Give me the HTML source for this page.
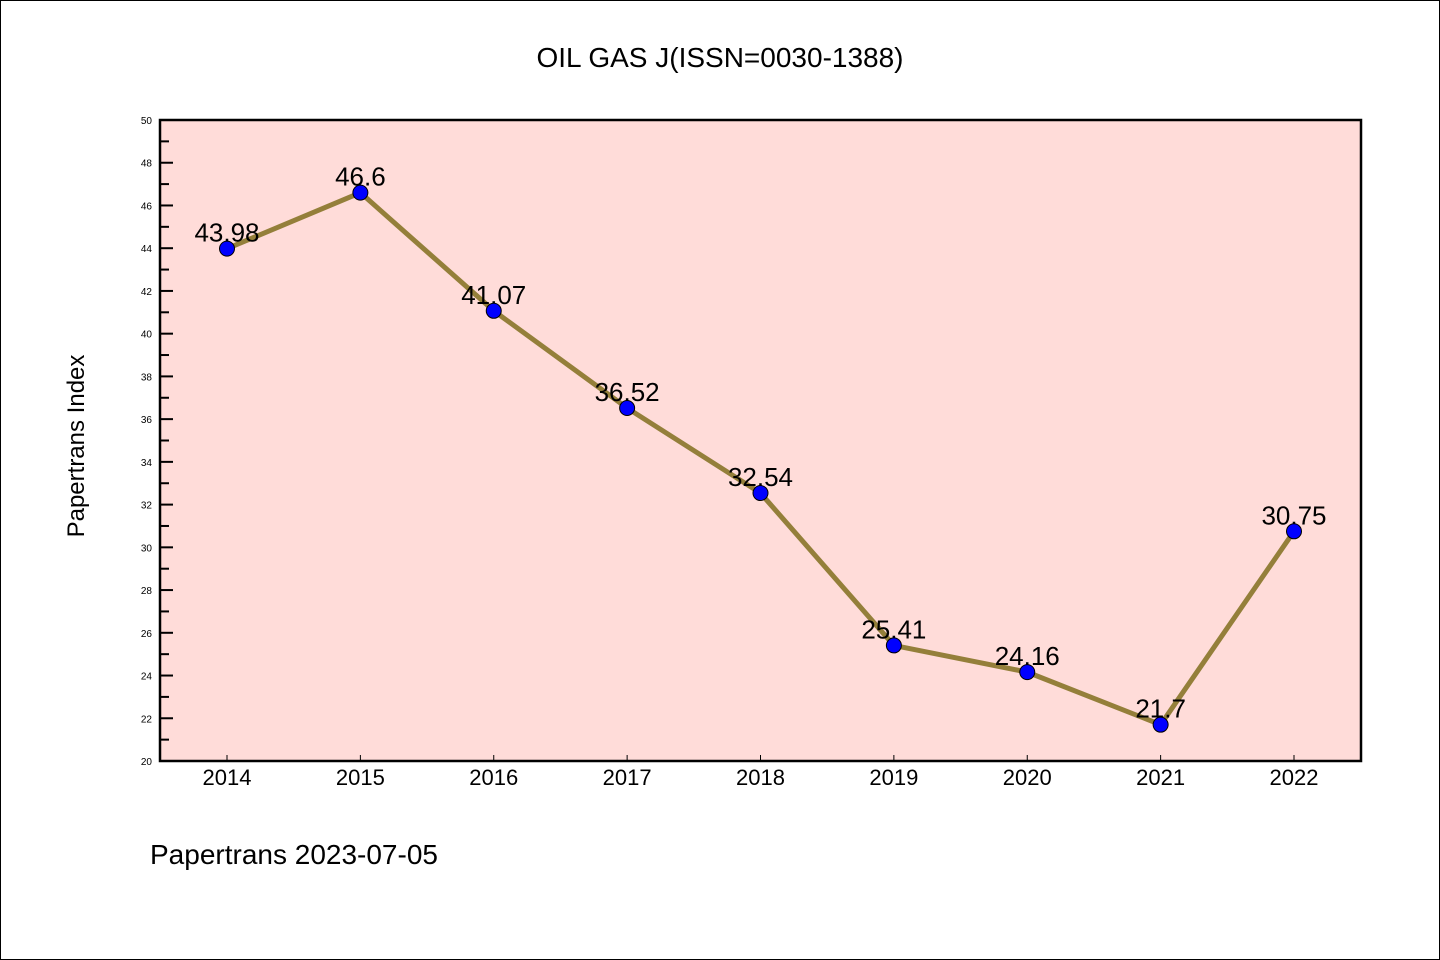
<!DOCTYPE html>
<html><head><meta charset="utf-8"><style>
html,body{margin:0;padding:0;background:#fff}
svg{display:block}
text{font-family:"Liberation Sans","DejaVu Sans",sans-serif}
</style></head><body>
<svg id="chart" width="1440" height="960" xmlns="http://www.w3.org/2000/svg">
<rect x="0.5" y="0.5" width="1439" height="959" fill="#fff" stroke="#000" stroke-width="1"/>
<text x="720" y="67" text-anchor="middle" font-size="28" font-family="DejaVu Sans Mono, monospace" fill="#000">OIL GAS J(ISSN=0030-1388)</text>
<rect x="160" y="120" width="1201" height="641" fill="#ffdcd9"/>
<g id="axes"></g>
<g id="series"></g>
<rect x="160" y="120" width="1201" height="641" fill="none" stroke="#000" stroke-width="2.5"/>
<text transform="translate(84,446) rotate(-90)" text-anchor="middle" font-size="24" font-family="DejaVu Sans Mono, monospace">Papertrans Index</text>
<text x="150" y="864" font-size="28" font-family="DejaVu Sans Mono, monospace">Papertrans 2023-07-05</text>
</svg>
<script>
const categories = ["2014","2015","2016","2017","2018","2019","2020","2021","2022"];
const values = [43.98,46.6,41.07,36.52,32.54,25.41,24.16,21.7,30.75];
const labels = ["43.98","46.6","41.07","36.52","32.54","25.41","24.16","21.7","30.75"];
const yTicks = [20,22,24,26,28,30,32,34,36,38,40,42,44,46,48,50];
const yMin = 20, yMax = 50;
const NS = "http://www.w3.org/2000/svg";
const L = 160, R = 1361, T = 120, B = 761;
function xPos(i){ return 227 + i * (1294 - 227) / (categories.length - 1); }
function yPos(v){ return B - (v - yMin) / (yMax - yMin) * (B - T); }
function mk(tag, attrs, parent){ const e = document.createElementNS(NS, tag); for (const k in attrs) e.setAttribute(k, attrs[k]); parent.appendChild(e); return e; }
const axes = document.getElementById('axes');
const series = document.getElementById('series');
yTicks.forEach(v => {
  const y = yPos(v);
  const t = mk('line', {x1:L, x2:L+13, y1:y, y2:y, stroke:'#000', 'stroke-width':2}, axes);
  
  
  const lb = mk('text', {x:152, y:y+4, 'text-anchor':'end', 'font-size':10}, axes);
  
  
  lb.textContent = v;
  if (v < yMax) {
    const ym = yPos(v + 1);
    const m = mk('line', {x1:L, x2:L+9, y1:ym, y2:ym, stroke:'#000', 'stroke-width':2}, axes);
    
    
  }
});
categories.forEach((c, i) => {
  const x = xPos(i);
  const t = mk('line', {x1:x, x2:x, y1:B, y2:B-6, stroke:'#000', 'stroke-width':1}, axes);
  
  
  const lb = mk('text', {x:x, y:785, 'text-anchor':'middle', 'font-size':22}, axes);
  
  
  lb.textContent = c;
});
const pts = values.map((v, i) => xPos(i) + ',' + yPos(v)).join(' ');
const line = mk('polyline', {points:pts, fill:'none', stroke:'#947f3a', 'stroke-width':5, 'stroke-linejoin':'round'}, series);


values.forEach((v, i) => {
  const x = xPos(i), y = yPos(v);
  const lb = mk('text', {x:x, y:y-7, 'text-anchor':'middle', 'font-size':26}, series);
  
  
  lb.textContent = labels[i];
  const c = mk('circle', {cx:x, cy:y, r:7.5, fill:'#0000ff', stroke:'#000', 'stroke-width':1}, series);
  
  
});
</script>
</body></html>
